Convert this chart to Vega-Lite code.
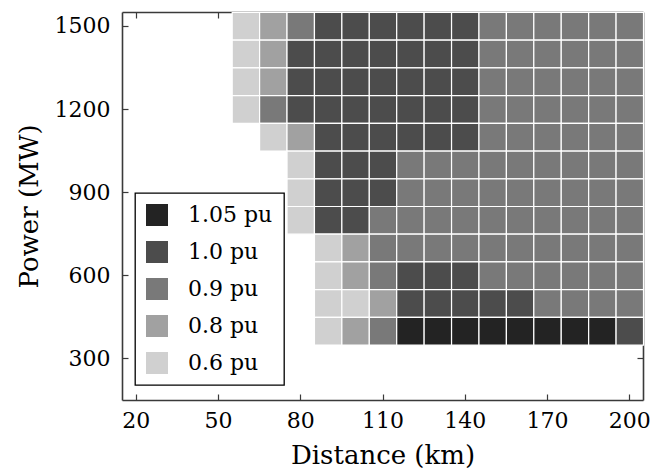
{
  "$schema": "https://vega.github.io/schema/vega-lite/v6.json",
  "width": 521,
  "height": 388,
  "autosize": {"type": "none"},
  "padding": {"left": 122, "top": 12, "right": 10, "bottom": 75},
  "background": "white",
  "data": {"values": [
    {"d":60,"p":1500,"v":"0.6 pu"},{"d":70,"p":1500,"v":"0.8 pu"},{"d":80,"p":1500,"v":"0.9 pu"},{"d":90,"p":1500,"v":"1.0 pu"},{"d":100,"p":1500,"v":"1.0 pu"},{"d":110,"p":1500,"v":"1.0 pu"},{"d":120,"p":1500,"v":"1.0 pu"},{"d":130,"p":1500,"v":"1.0 pu"},{"d":140,"p":1500,"v":"1.0 pu"},{"d":150,"p":1500,"v":"0.9 pu"},{"d":160,"p":1500,"v":"0.9 pu"},{"d":170,"p":1500,"v":"0.9 pu"},{"d":180,"p":1500,"v":"0.9 pu"},{"d":190,"p":1500,"v":"0.9 pu"},{"d":200,"p":1500,"v":"0.9 pu"},
    {"d":60,"p":1400,"v":"0.6 pu"},{"d":70,"p":1400,"v":"0.8 pu"},{"d":80,"p":1400,"v":"1.0 pu"},{"d":90,"p":1400,"v":"1.0 pu"},{"d":100,"p":1400,"v":"1.0 pu"},{"d":110,"p":1400,"v":"1.0 pu"},{"d":120,"p":1400,"v":"1.0 pu"},{"d":130,"p":1400,"v":"1.0 pu"},{"d":140,"p":1400,"v":"1.0 pu"},{"d":150,"p":1400,"v":"0.9 pu"},{"d":160,"p":1400,"v":"0.9 pu"},{"d":170,"p":1400,"v":"0.9 pu"},{"d":180,"p":1400,"v":"0.9 pu"},{"d":190,"p":1400,"v":"0.9 pu"},{"d":200,"p":1400,"v":"0.9 pu"},
    {"d":60,"p":1300,"v":"0.6 pu"},{"d":70,"p":1300,"v":"0.8 pu"},{"d":80,"p":1300,"v":"1.0 pu"},{"d":90,"p":1300,"v":"1.0 pu"},{"d":100,"p":1300,"v":"1.0 pu"},{"d":110,"p":1300,"v":"1.0 pu"},{"d":120,"p":1300,"v":"1.0 pu"},{"d":130,"p":1300,"v":"1.0 pu"},{"d":140,"p":1300,"v":"1.0 pu"},{"d":150,"p":1300,"v":"0.9 pu"},{"d":160,"p":1300,"v":"0.9 pu"},{"d":170,"p":1300,"v":"0.9 pu"},{"d":180,"p":1300,"v":"0.9 pu"},{"d":190,"p":1300,"v":"0.9 pu"},{"d":200,"p":1300,"v":"0.9 pu"},
    {"d":60,"p":1200,"v":"0.6 pu"},{"d":70,"p":1200,"v":"0.9 pu"},{"d":80,"p":1200,"v":"1.0 pu"},{"d":90,"p":1200,"v":"1.0 pu"},{"d":100,"p":1200,"v":"1.0 pu"},{"d":110,"p":1200,"v":"1.0 pu"},{"d":120,"p":1200,"v":"1.0 pu"},{"d":130,"p":1200,"v":"1.0 pu"},{"d":140,"p":1200,"v":"1.0 pu"},{"d":150,"p":1200,"v":"0.9 pu"},{"d":160,"p":1200,"v":"0.9 pu"},{"d":170,"p":1200,"v":"0.9 pu"},{"d":180,"p":1200,"v":"0.9 pu"},{"d":190,"p":1200,"v":"0.9 pu"},{"d":200,"p":1200,"v":"0.9 pu"},
    {"d":70,"p":1100,"v":"0.6 pu"},{"d":80,"p":1100,"v":"0.8 pu"},{"d":90,"p":1100,"v":"1.0 pu"},{"d":100,"p":1100,"v":"1.0 pu"},{"d":110,"p":1100,"v":"1.0 pu"},{"d":120,"p":1100,"v":"1.0 pu"},{"d":130,"p":1100,"v":"1.0 pu"},{"d":140,"p":1100,"v":"1.0 pu"},{"d":150,"p":1100,"v":"0.9 pu"},{"d":160,"p":1100,"v":"0.9 pu"},{"d":170,"p":1100,"v":"0.9 pu"},{"d":180,"p":1100,"v":"0.9 pu"},{"d":190,"p":1100,"v":"0.9 pu"},{"d":200,"p":1100,"v":"0.9 pu"},
    {"d":80,"p":1000,"v":"0.6 pu"},{"d":90,"p":1000,"v":"1.0 pu"},{"d":100,"p":1000,"v":"1.0 pu"},{"d":110,"p":1000,"v":"1.0 pu"},{"d":120,"p":1000,"v":"0.9 pu"},{"d":130,"p":1000,"v":"0.9 pu"},{"d":140,"p":1000,"v":"0.9 pu"},{"d":150,"p":1000,"v":"0.9 pu"},{"d":160,"p":1000,"v":"0.9 pu"},{"d":170,"p":1000,"v":"0.9 pu"},{"d":180,"p":1000,"v":"0.9 pu"},{"d":190,"p":1000,"v":"0.9 pu"},{"d":200,"p":1000,"v":"0.9 pu"},
    {"d":80,"p":900,"v":"0.6 pu"},{"d":90,"p":900,"v":"1.0 pu"},{"d":100,"p":900,"v":"1.0 pu"},{"d":110,"p":900,"v":"1.0 pu"},{"d":120,"p":900,"v":"0.9 pu"},{"d":130,"p":900,"v":"0.9 pu"},{"d":140,"p":900,"v":"0.9 pu"},{"d":150,"p":900,"v":"0.9 pu"},{"d":160,"p":900,"v":"0.9 pu"},{"d":170,"p":900,"v":"0.9 pu"},{"d":180,"p":900,"v":"0.9 pu"},{"d":190,"p":900,"v":"0.9 pu"},{"d":200,"p":900,"v":"0.9 pu"},
    {"d":80,"p":800,"v":"0.6 pu"},{"d":90,"p":800,"v":"1.0 pu"},{"d":100,"p":800,"v":"1.0 pu"},{"d":110,"p":800,"v":"0.9 pu"},{"d":120,"p":800,"v":"0.9 pu"},{"d":130,"p":800,"v":"0.9 pu"},{"d":140,"p":800,"v":"0.9 pu"},{"d":150,"p":800,"v":"0.9 pu"},{"d":160,"p":800,"v":"0.9 pu"},{"d":170,"p":800,"v":"0.9 pu"},{"d":180,"p":800,"v":"0.9 pu"},{"d":190,"p":800,"v":"0.9 pu"},{"d":200,"p":800,"v":"0.9 pu"},
    {"d":90,"p":700,"v":"0.6 pu"},{"d":100,"p":700,"v":"0.8 pu"},{"d":110,"p":700,"v":"0.9 pu"},{"d":120,"p":700,"v":"0.9 pu"},{"d":130,"p":700,"v":"0.9 pu"},{"d":140,"p":700,"v":"0.9 pu"},{"d":150,"p":700,"v":"0.9 pu"},{"d":160,"p":700,"v":"0.9 pu"},{"d":170,"p":700,"v":"0.9 pu"},{"d":180,"p":700,"v":"0.9 pu"},{"d":190,"p":700,"v":"0.9 pu"},{"d":200,"p":700,"v":"0.9 pu"},
    {"d":90,"p":600,"v":"0.6 pu"},{"d":100,"p":600,"v":"0.8 pu"},{"d":110,"p":600,"v":"0.9 pu"},{"d":120,"p":600,"v":"1.0 pu"},{"d":130,"p":600,"v":"1.0 pu"},{"d":140,"p":600,"v":"1.0 pu"},{"d":150,"p":600,"v":"0.9 pu"},{"d":160,"p":600,"v":"0.9 pu"},{"d":170,"p":600,"v":"0.9 pu"},{"d":180,"p":600,"v":"0.9 pu"},{"d":190,"p":600,"v":"0.9 pu"},{"d":200,"p":600,"v":"0.9 pu"},
    {"d":90,"p":500,"v":"0.6 pu"},{"d":100,"p":500,"v":"0.6 pu"},{"d":110,"p":500,"v":"0.8 pu"},{"d":120,"p":500,"v":"1.0 pu"},{"d":130,"p":500,"v":"1.0 pu"},{"d":140,"p":500,"v":"1.0 pu"},{"d":150,"p":500,"v":"1.0 pu"},{"d":160,"p":500,"v":"1.0 pu"},{"d":170,"p":500,"v":"0.9 pu"},{"d":180,"p":500,"v":"0.9 pu"},{"d":190,"p":500,"v":"0.9 pu"},{"d":200,"p":500,"v":"0.9 pu"},
    {"d":90,"p":400,"v":"0.6 pu"},{"d":100,"p":400,"v":"0.8 pu"},{"d":110,"p":400,"v":"0.9 pu"},{"d":120,"p":400,"v":"1.05 pu"},{"d":130,"p":400,"v":"1.05 pu"},{"d":140,"p":400,"v":"1.05 pu"},{"d":150,"p":400,"v":"1.05 pu"},{"d":160,"p":400,"v":"1.05 pu"},{"d":170,"p":400,"v":"1.05 pu"},{"d":180,"p":400,"v":"1.05 pu"},{"d":190,"p":400,"v":"1.05 pu"},{"d":200,"p":400,"v":"1.0 pu"}
  ]},
  "layer": [
    {
      "mark": {"type": "rect", "stroke": "white", "strokeWidth": 1.2, "binSpacing": 0},
      "encoding": {
        "x": {
          "field": "d", "type": "quantitative",
          "bin": {"extent": [55, 205], "step": 10, "nice": false},
          "scale": {"domain": [15, 205], "nice": false, "zero": false},
          "axis": {"orient": "bottom", "title": "Distance (km)", "format": "d", "values": [20, 50, 80, 110, 140, 170, 200], "labelPadding": 16, "titlePadding": 11}
        },
        "y": {
          "field": "p", "type": "quantitative",
          "bin": {"extent": [350, 1550], "step": 100, "nice": false},
          "scale": {"domain": [150, 1550], "nice": false, "zero": false},
          "axis": {"orient": "left", "title": "Power (MW)", "format": "d", "values": [300, 600, 900, 1200, 1500], "labelPadding": 18, "titlePadding": 12}
        },
        "color": {
          "field": "v", "type": "nominal",
          "scale": {"domain": ["1.05 pu", "1.0 pu", "0.9 pu", "0.8 pu", "0.6 pu"], "range": ["#232323", "#4c4c4c", "#797979", "#a1a1a1", "#d0d0d0"]},
          "legend": {
            "orient": "none", "legendX": 13, "legendY": 181, "title": null,
            "symbolType": "square", "symbolSize": 484, "symbolStrokeWidth": 0, "symbolOpacity": 1,
            "labelFont": "DejaVu Serif", "labelFontSize": 22, "labelColor": "black",
            "padding": 11, "rowPadding": 15, "labelOffset": 20,
            "strokeColor": "black", "fillColor": "white"
          }
        }
      }
    },
    {
      "mark": {"type": "point", "opacity": 0},
      "encoding": {
        "x": {"field": "d", "type": "quantitative", "scale": {"domain": [15, 205], "nice": false, "zero": false},
              "axis": {"orient": "top", "title": null, "labels": false, "grid": false, "values": [20, 50, 80, 110, 140, 170, 200]}},
        "y": {"field": "p", "type": "quantitative", "scale": {"domain": [150, 1550], "nice": false, "zero": false},
              "axis": {"orient": "right", "title": null, "labels": false, "grid": false, "values": [300, 600, 900, 1200, 1500]}}
      }
    }
  ],
  "resolve": {"axis": {"x": "independent", "y": "independent"}},
  "config": {
    "view": {"stroke": null},
    "axis": {
      "labelFont": "DejaVu Serif", "labelFontSize": 22, "labelColor": "black",
      "titleFont": "DejaVu Serif", "titleFontSize": 26, "titleFontWeight": "normal", "titleColor": "black",
      "tickSize": -6, "tickColor": "#3a3a3a", "tickWidth": 1.2,
      "domainColor": "#3a3a3a", "domainWidth": 1.6,
      "gridColor": "#e6e6e6", "gridWidth": 1,
      "labelFlush": false, "labelOverlap": false, "zindex": 1
    },
    "legend": {"strokeWidth": 1.3}
  }
}
